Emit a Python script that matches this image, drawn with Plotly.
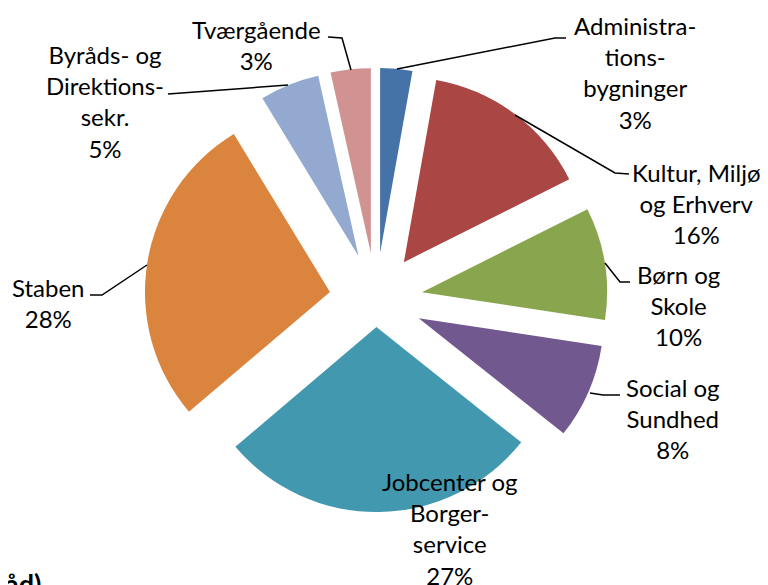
import plotly.graph_objects as go

W, H = 768, 585
OFF = 8  # the page body adds an 8px margin; positions below are measured on screen

labels = ["Administrationsbygninger", "Kultur, Miljø og Erhverv", "Børn og Skole",
          "Social og Sundhed", "Jobcenter og Borgerservice", "Staben",
          "Byråds- og Direktionssekr.", "Tværgående"]
# slice shares as measured from the slice angles
values = [2.8, 14.8, 9.8, 8.3, 28.1, 27.5, 5.2, 3.5]
# percentages as printed in the data labels
pct_labels = [3, 16, 10, 8, 27, 28, 5, 3]
label_text = ["Administra-<br>tions-<br>bygninger", "Kultur, Miljø<br>og Erhverv",
              "Børn og<br>Skole", "Social og<br>Sundhed", "Jobcenter og<br>Borger-<br>service",
              "Staben", "Byråds- og<br>Direktions-<br>sekr.", "Tværgående"]
colors = ["#4572A7", "#AA4643", "#89A54E", "#71588F", "#4198AF", "#DB843D", "#93A9CF", "#D19392"]
pulls = [0.252, 0.252, 0.252, 0.252, 0.149, 0.252, 0.252, 0.252]

# label block centres and leader lines (screen pixels)
label_pos = [(635, 72), (696, 203), (678, 305), (673, 419), (450, 528), (48, 303), (105, 102), (256, 45)]
leaders = [
    [(397, 69), (555, 38), (566, 38)],
    [(515, 115), (615, 173), (629, 174)],
    [(605, 263), (620, 282), (630, 282)],
    [(590, 393), (603, 395), (620, 395)],
    None,
    [(147, 265), (102, 295), (90, 295)],
    [(288, 85), (168, 94)],
    [(351, 70), (342, 38), (328, 37)],
]


def px(x, y):
    return (x - OFF) / W, (H - (y - OFF)) / H


# pie: centre (376, 299.5), radius 185 on screen
r, cx, cy = 185, 376, 299.5
half = r * (1 + max(pulls))
x0, y1 = px(cx - half, cy - half)
x1, y0 = px(cx + half, cy + half)

fig = go.Figure(go.Pie(
    labels=labels, values=values, sort=False, direction="clockwise", rotation=0,
    marker=dict(colors=colors, line=dict(width=0)), pull=pulls,
    textinfo="none", hoverinfo="label",
    domain=dict(x=[x0, x1], y=[y0, y1]),
))

annotations = []
for txt, p, (x, y) in zip(label_text, pct_labels, label_pos):
    ax, ay = px(x, y)
    annotations.append(dict(
        x=ax, y=ay, xref="paper", yref="paper", showarrow=False,
        text=f"{txt}<br>{p}%", align="center",
        xanchor="center", yanchor="middle",
        font=dict(family="Lato", size=24, color="#000000"),
    ))
# clipped heading fragment at the bottom edge
annotations.append(dict(x=px(3, 0)[0], y=px(0, 565)[1], xref="paper", yref="paper", showarrow=False,
                        text="<b>åd)</b>", xanchor="left", yanchor="top",
                        font=dict(family="Lato", size=27, color="#000000")))

shapes = []
for pts in leaders:
    if not pts:
        continue
    path = ""
    for i, (x, y) in enumerate(pts):
        X, Y = px(x, y)
        path += ("M" if i == 0 else "L") + f"{X},{Y} "
    shapes.append(dict(type="path", xref="paper", yref="paper", path=path.strip(),
                       line=dict(color="#000000", width=1.5)))

fig.update_layout(
    width=W, height=H, margin=dict(l=0, r=0, t=0, b=0),
    paper_bgcolor="white", plot_bgcolor="white", showlegend=False,
    annotations=annotations, shapes=shapes,
)
fig.write_html("out.html")
